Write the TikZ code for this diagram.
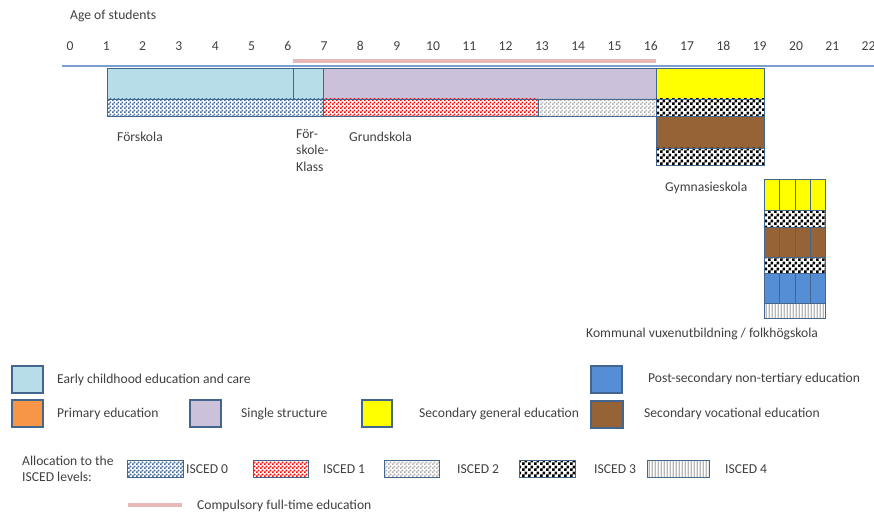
\documentclass[tikz,border=0pt]{standalone}
\usepackage{fontspec}
\setmainfont{Carlito}
\usetikzlibrary{patterns}
\definecolor{ecec}{HTML}{B7DDE8}
\definecolor{single}{HTML}{CCC1DA}
\definecolor{secgen}{HTML}{FFFF00}
\definecolor{secvoc}{HTML}{956336}
\definecolor{postsec}{HTML}{558ED5}
\definecolor{primary}{HTML}{F79646}
\definecolor{compulsory}{HTML}{E6B9B8}
\definecolor{frame}{HTML}{43668F}
\definecolor{axis}{HTML}{7BA0D0}
\definecolor{txt}{HTML}{404040}
\pgfdeclarepatternformonly{fine checker}{\pgfpointorigin}{\pgfqpoint{4pt}{4pt}}{\pgfqpoint{4pt}{4pt}}{
  \pgfpathrectangle{\pgfpointorigin}{\pgfqpoint{2pt}{2pt}}
  \pgfpathrectangle{\pgfqpoint{2pt}{2pt}}{\pgfqpoint{2pt}{2pt}}
  \pgfusepath{fill}}
\pgfdeclarepatternformonly{coarse checker}{\pgfpointorigin}{\pgfqpoint{6pt}{6pt}}{\pgfqpoint{6pt}{6pt}}{
  \pgfpathrectangle{\pgfpointorigin}{\pgfqpoint{3pt}{3pt}}
  \pgfpathrectangle{\pgfqpoint{3pt}{3pt}}{\pgfqpoint{3pt}{3pt}}
  \pgfusepath{fill}}
\pgfdeclarepatternformonly{stripes}{\pgfpointorigin}{\pgfqpoint{3pt}{3pt}}{\pgfqpoint{3pt}{3pt}}{
  \pgfsetlinewidth{0.9pt}
  \pgfpathmoveto{\pgfqpoint{1.5pt}{-1pt}}
  \pgfpathlineto{\pgfqpoint{1.5pt}{4pt}}
  \pgfusepath{stroke}}
\tikzset{
  box/.style={draw=frame, line width=0.8pt},
  key/.style={draw=frame, line width=1.2pt},
  isced0/.style={box, pattern=fine checker, pattern color=postsec!75!black},
  isced1/.style={box, pattern=fine checker, pattern color=red},
  isced2/.style={box, pattern=fine checker, pattern color=black!30},
  isced3/.style={box, pattern=coarse checker, pattern color=black},
  isced4/.style={box, pattern=stripes, pattern color=black!80},
  label/.style={anchor=west, inner sep=0pt, text=txt, font=\fontsize{13.6}{16.5}\selectfont}
}
\begin{document}
\begin{tikzpicture}[x=1pt, y=-1pt]
\useasboundingbox (0,0) rectangle (874,513);
% age axis
\node[label] (agetitle) at (70,16) {Age of students};
\foreach \a in {0,...,22}
  \node[label, anchor=center] (age\a) at ({70+36.3*\a},46) {\a};
\draw[axis, line width=1.2pt] (62,66) -- (874,66);
\draw[compulsory, line width=4pt] (293,61) -- (656,61);
% main row
\draw[box, fill=ecec] (107,68) rectangle (293,99);
\draw[box, fill=ecec] (293,68) rectangle (323,99);
\draw[box, fill=single] (323,68) rectangle (656,99);
\draw[box, fill=secgen] (656,68) rectangle (764,99);
\draw[isced0] (107,99) rectangle (323,116);
\draw[isced1] (323,99) rectangle (538,116);
\draw[isced2] (538,99) rectangle (656,116);
\draw[isced3] (656,99) rectangle (764,116);
\draw[box, fill=secvoc] (656,116) rectangle (764,148);
\draw[isced3] (656,148) rectangle (764,165);
\node[label] (forskola) at (117,137) {Förskola};
\node[label, align=left, anchor=north west] (fklass) at (296,129) {För-\\skole-\\Klass};
\node[label] (grund) at (349,137) {Grundskola};
\node[label] (gymn) at (665,188) {Gymnasieskola};
% adult education stack
\foreach \l/\r in {764/779, 779/795, 795/810, 810/825} {
  \draw[box, fill=secgen] (\l,179) rectangle (\r,210);
  \draw[box, fill=secvoc] (\l,227) rectangle (\r,257);
  \draw[box, fill=postsec] (\l,273) rectangle (\r,303);
}
\draw[isced3] (764,210) rectangle (825,227);
\draw[isced3] (764,257) rectangle (825,273);
\draw[isced4] (764,303) rectangle (825,318);
\node[label] (komvux) at (586,334) {Kommunal vuxenutbildning / folkhögskola};
% legend
\draw[key, fill=ecec] (12,366) rectangle (43,393);
\node[label] (kecec) at (57,380) {Early childhood education and care};
\draw[key, fill=primary] (12,400) rectangle (43,427);
\node[label] (kprim) at (57,414) {Primary education};
\draw[key, fill=single] (190,400) rectangle (221,427);
\node[label] (ksingle) at (241,414) {Single structure};
\draw[key, fill=secgen] (362,400) rectangle (392,427);
\node[label] (kgen) at (419,414) {Secondary general education};
\draw[key, fill=postsec] (591,366) rectangle (622,393);
\node[label] (kpost) at (648,379) {Post-secondary non-tertiary education};
\draw[key, fill=secvoc] (591,401) rectangle (623,428);
\node[label] (kvoc) at (644,414) {Secondary vocational education};
\node[label, align=left] (kalloc) at (22,469) {Allocation to the\\ISCED levels:};
\draw[isced0] (127,460) rectangle (183,477);
\node[label] (k0) at (186,469) {ISCED 0};
\draw[isced1] (253,460) rectangle (308,477);
\node[label] (k1) at (323,469) {ISCED 1};
\draw[isced2] (384,460) rectangle (439,477);
\node[label] (k2) at (457,469) {ISCED 2};
\draw[isced3] (519,460) rectangle (575,477);
\node[label] (k3) at (594,469) {ISCED 3};
\draw[isced4] (647,460) rectangle (709,477);
\node[label] (k4) at (725,469) {ISCED 4};
\draw[compulsory, line width=4pt] (128,505) -- (182,505);
\node[label] (kcomp) at (197,506) {Compulsory full-time education};
\end{tikzpicture}
\end{document}
